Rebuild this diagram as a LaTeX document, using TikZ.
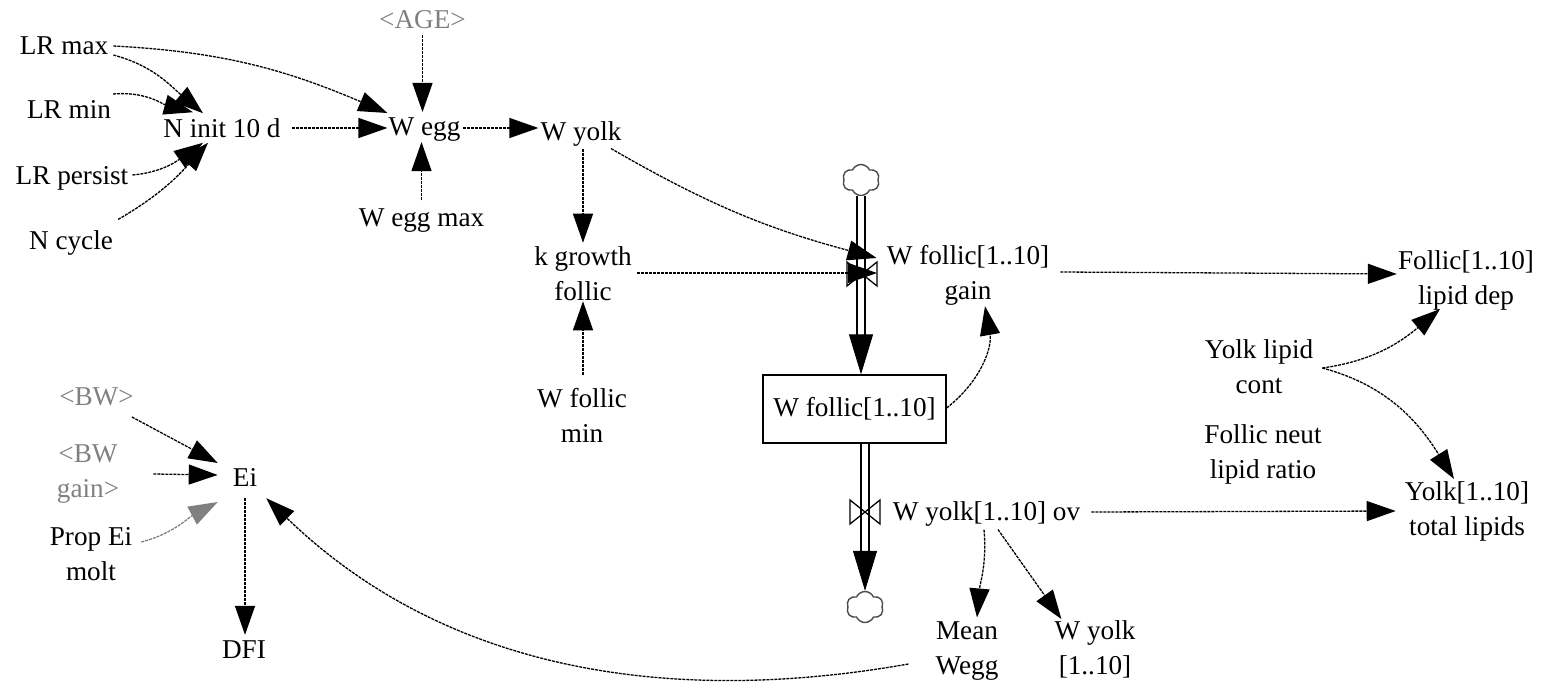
\documentclass[tikz,border=0pt]{standalone}
\usepackage{fontspec}
\setmainfont{Liberation Serif}
\usetikzlibrary{arrows.meta, shapes.symbols}
\tikzset{%
	every var/.style={
		inner sep=1pt,
		align=center,
		font=\fontsize{27.2}{35}\selectfont
	},
	shadow var/.style={
		every var,
		text=black!50
	},
	stock box/.style={
		every var,
		draw,
		line width=1.3pt,
		minimum width=183pt,
		minimum height=68pt
	},
	source cloud/.style={
		cloud,
		cloud puffs=6,
		cloud puff arc=130,
		draw=black!70,
		line width=1.4pt,
		minimum width=37pt,
		minimum height=31pt,
		inner sep=0pt
	},
	link/.style={
		line width=1.3pt,
		dash pattern=on 3pt off 1pt,
		-{Triangle[length=29pt,width=20pt]}
	},
	shadow link/.style={
		link,
		draw=black!50,
		-{Triangle[length=29pt,width=20pt,fill=black!50]}
	},
	flow/.style={
		line width=2pt,
		double,
		double distance=5.5pt
	},
	flow head/.style={
		line width=1pt,
		-{Triangle[length=40pt,width=24pt]}
	},
	valve line/.style={
		line width=1.3pt,
		line join=miter
	}
}

\begin{document}
\begin{tikzpicture}[x=1pt,y=-1pt]
			\useasboundingbox (0,0) rectangle (1541,690);
			
			% Nodes of the model
			\node[every var] (lrmax) at (64,46) {LR max};
			\node[every var] (lrmin) at (69,109) {LR min};
			\node[every var] (lrpersist) at (72,178) {LR persist};
			\node[every var] (ncycle) at (71,243) {N cycle};
			\node[every var] (ninit) at (222,128) {N init 10 d};
			\node[shadow var] (age) at (422.5,20) {<AGE>};
			\node[every var] (wegg) at (424.5,130) {W egg};
			\node[every var] (weggmax) at (421.5,220.5) {W egg max};
			\node[every var] (wyolk) at (581,134) {W yolk};
			\node[every var] (kgrowth) at (583,274) {k growth\\follic};
			\node[every var] (wfollicmin) at (582,415) {W follic\\min};
			\node[every var] (gain) at (968,275) {W follic[1..10]\\gain};
			\node[every var] (lipiddep) at (1466,280) {Follic[1..10]\\lipid dep};
			\node[every var] (lipidcont) at (1259,367) {Yolk lipid\\cont};
			\node[every var] (neutratio) at (1263,454) {Follic neut\\lipid ratio};
			\node[every var] (totallipids) at (1467,511) {Yolk[1..10]\\total lipids};
			\node[stock box] (wfollic) at (854.5,409) {W follic[1..10]};
			\node[every var] (ov) at (986.5,514) {W yolk[1..10] ov};
			\node[every var] (meanwegg) at (967,651) {Mean\\Wegg};
			\node[every var] (wyolkten) at (1095,649) {W yolk\\{[}1..10{]}};
			\node[shadow var] (bw) at (96.5,397) {<BW>};
			\node[shadow var] (bwgain) at (88,474) {<BW\\gain>};
			\node[every var] (ei) at (245,477) {Ei};
			\node[every var] (propei) at (91,554) {Prop Ei\\molt};
			\node[every var] (dfi) at (244,650) {DFI};
			\node[source cloud] (cloudtop) at (861,180) {};
			\node[source cloud] (cloudbottom) at (865,607) {};
			\coordinate (vgain) at (862,274);
			\coordinate (vov) at (865,512);
			
			% Pipes and valves
			\draw[flow] (cloudtop.south -| 861,0) -- (861,338);
			\draw[flow head] (861,336) -- (wfollic.north -| 861,336);
			\draw[flow] (wfollic.south -| vov) -- (865,555);
			\draw[flow head] (865,553) -- (cloudbottom.north);
			\foreach \v in {vgain,vov}
				\draw[valve line] ([shift={(-15,-12)}]\v) -- ([shift={(15,12)}]\v) -- ([shift={(15,-12)}]\v) -- ([shift={(-15,12)}]\v) -- cycle;
			
			% Links
			\draw[link] ([shift={(4,9)}]lrmax.east) to[out=-15,in=140] ([shift={(-19,-4)}]ninit.north);
			\draw[link] ([shift={(4,0)}]lrmax.east) to[out=-3,in=157] ([shift={(0,-17)}]wegg.west);
			\draw[link] ([shift={(1,-15)}]lrmin.east) to[out=5,in=165] ([shift={(-29,-5)}]ninit.north);
			\draw[link] ([shift={(3,-3)}]lrpersist.east) to[out=5,in=215] ([shift={(-19,4)}]ninit.south);
			\draw[link] ([shift={(4,-10)}]ncycle.north east) to[out=30,in=228] ([shift={(-14,4)}]ninit.south);
			\draw[link] ([xshift=10pt]ninit.east) -- ([shift={(0,-2)}]wegg.west);
			\draw[link] ([yshift=-5pt]age.south) -- ([yshift=5pt]wegg.north -| age);
			\draw[link] ([yshift=7pt]weggmax.north) -- ([yshift=1pt]wegg.south -| weggmax);
			\draw[link] ([shift={(1,-2)}]wegg.east) -- ([shift={(-1,-6)}]wyolk.west);
			\draw[link] ([shift={(2,1)}]wyolk.south) -- ([yshift=3pt]kgrowth.north);
			\draw[link] ([shift={(30,1)}]wyolk.south) to[out=-30,in=165] ([shift={(-9,-17)}]gain.west);
			\draw[link] ([shift={(4,-1)}]kgrowth.east) -- ([shift={(15,-1)}]vgain);
			\draw[link] ([yshift=12pt]wfollicmin.north -| kgrowth) -- ([yshift=1pt]kgrowth.south);
			\draw[link] ([shift={(0,-1)}]wfollic.east) to[out=38,in=-80] ([shift={(17,0)}]gain.south);
			\draw[link] ([shift={(10,-3)}]gain.east) -- ([yshift=1pt]gain.east -| lipiddep.west);
			\draw[link] ([shift={(8,1)}]lipidcont.east) to[out=8,in=-140] ([shift={(-26,-2)}]lipiddep.south);
			\draw[link] ([shift={(8,1)}]lipidcont.east) to[out=-15,in=122] ([shift={(-13,-1)}]totallipids.north);
			\draw[link] ([shift={(10,-2)}]ov.east) -- ([shift={(-8,-3)}]ov.east -| totallipids.west);
			\draw[link] ([shift={(-2.5,2)}]ov.south) to[out=-85,in=85] ([shift={(10,-3)}]meanwegg.north);
			\draw[link] ([shift={(11.5,2)}]ov.south) to ([shift={(8,0)}]wyolkten.north west);
			\draw[link] ([shift={(-26,13)}]meanwegg.west) to[out=190,in=-44,looseness=0.95] ([shift={(8,11)}]ei.south east);
			\draw[link] ([shift={(-3,20)}]bw.east) -- ([shift={(-14,-14)}]ei.west);
			\draw[link] ([shift={(33,0)}]bwgain.east) -- ([shift={(-14,-2)}]ei.west);
			\draw[shadow link] ([shift={(8,-12)}]propei.east) to[out=15,in=-152] ([shift={(-14,25)}]ei.west);
			\draw[link] ([yshift=-11pt]ei.south) -- ([yshift=5pt]dfi.north -| ei);
		\end{tikzpicture}
\end{document}
